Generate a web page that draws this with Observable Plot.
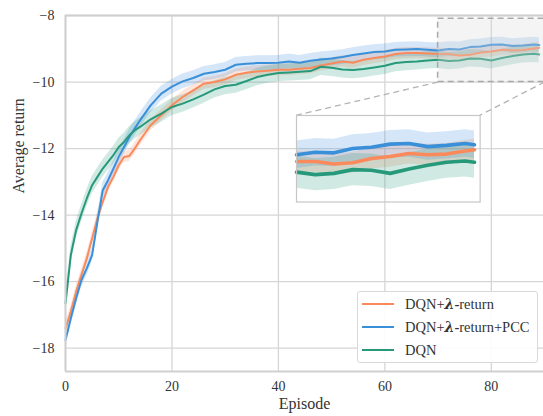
<!DOCTYPE html>
<html>
<head>
<meta charset="utf-8">
<script src="https://cdn.jsdelivr.net/npm/d3@7"></script>
<script src="https://cdn.jsdelivr.net/npm/@observablehq/plot@0.6"></script>
<style>
  html, body { margin: 0; padding: 0; background: #fff; }
  #wrap { position: relative; width: 543px; height: 416px; font-family: "Liberation Serif", "Times New Roman", Times, serif; color: #333; }
  #wrap svg text { font-family: "Liberation Serif", "Times New Roman", Times, serif; }
  #legend { position: absolute; box-sizing: border-box; border: 1px solid #d9d9d9; border-radius: 3px; background: rgba(255,255,255,0.9); font-size: 14.5px; }
  .row { position: absolute; left: 0; height: 20px; display: flex; align-items: center; white-space: nowrap; }
  .swatch { display: inline-block; width: 32px; height: 2px; margin-left: 4px; margin-right: 11px; }
  .lam { font-family: "DejaVu Serif", serif; font-weight: bold; font-style: italic; font-size: 14px; }
  .dash { font-weight: bold; }
</style>
</head>
<body>
<div id="wrap"></div>
<script>
// ---- data ----
const episodes = [0,1,2,3,4,5,6,7,8,9,10,11,12,13,14,16,18,20,22,24,26,28,30,32,34,36,38,40,42,44,46,48,50,52,54,56,58,60,62,64,66,68,70,72,74,76,78,80,82,84,86,88,89];
const lambdaReturn = [-17.4,-16.9,-16.3,-15.8,-15.3,-14.7,-14.1,-13.6,-13.15,-12.85,-12.5,-12.25,-12.22,-12.0,-11.75,
  -11.3,-11.0,-10.7,-10.45,-10.25,-10.05,-10.0,-9.92,-9.78,-9.72,-9.68,-9.66,-9.63,-9.63,-9.6,-9.58,-9.5,-9.44,-9.38,-9.42,-9.33,-9.28,-9.23,-9.16,-9.13,-9.13,-9.14,-9.16,-9.16,-9.2,-9.18,-9.11,-9.08,-9.03,-9.05,-9.04,-8.99,-8.97];
const pccReturn = [-17.75,-17.1,-16.5,-15.95,-15.6,-15.2,-14.2,-13.25,-12.95,-12.6,-12.25,-11.95,-11.65,-11.4,-11.15,
  -10.7,-10.35,-10.14,-9.98,-9.88,-9.75,-9.7,-9.63,-9.48,-9.45,-9.43,-9.43,-9.42,-9.38,-9.42,-9.36,-9.32,-9.29,-9.25,-9.19,-9.14,-9.1,-9.08,-9.03,-9.02,-9.01,-9.03,-9.05,-9.01,-9.02,-8.95,-8.93,-8.88,-8.87,-8.92,-8.9,-8.87,-8.89];
const dqnReturn = [-16.65,-15.2,-14.45,-13.95,-13.5,-13.1,-12.85,-12.6,-12.4,-12.2,-11.95,-11.8,-11.6,-11.45,-11.35,
  -11.12,-10.95,-10.75,-10.65,-10.52,-10.38,-10.22,-10.12,-10.08,-9.97,-9.85,-9.78,-9.73,-9.71,-9.69,-9.67,-9.54,-9.57,-9.62,-9.64,-9.61,-9.56,-9.51,-9.43,-9.4,-9.38,-9.35,-9.33,-9.37,-9.35,-9.29,-9.3,-9.35,-9.28,-9.22,-9.17,-9.15,-9.17];
const seriesNames = ["DQN+λ-return", "DQN+λ-return+PCC", "DQN"];
const seriesValues = [lambdaReturn, pccReturn, dqnReturn];
const bandHalfWidth = [0.17, 0.22, 0.26];
const xTicks = [0, 20, 40, 60, 80];
const yTicks = [-8, -10, -12, -14, -16, -18];

// ---- style / layout ----
const fontStack = "'Liberation Serif', 'Times New Roman', Times, serif";
const seriesColors = ["#fa8a5c", "#3a8fd9", "#27997b"];
const gridColor = "#d6d6d6";
const zoomBox = {x1: 70, x2: 90, y1: -10, y2: -8.1};
const insetBox = {x1: 43.33, x2: 77.83, y1: -13.6, y2: -11.0};
const insetDomainY = [-9.81, -8.42];
const insetDomainX = [70, 89.6];

const rows = [];
seriesNames.forEach((name, s) => {
  episodes.forEach((e, i) => {
    const v = seriesValues[s][i];
    rows.push({series: name, episode: e, value: v, lo: v - bandHalfWidth[s], hi: v + bandHalfWidth[s]});
  });
});

const color = {domain: seriesNames, range: seriesColors};

const main = Plot.plot({
  width: 543, height: 416,
  marginLeft: 65, marginRight: 0, marginTop: 15, marginBottom: 45,
  style: {fontFamily: fontStack, fontSize: "14px", color: "#333", background: "transparent", overflow: "visible"},
  x: {domain: [0, 89.8], ticks: xTicks, tickSize: 0, tickPadding: 10, label: null},
  y: {domain: [-18.7, -8], ticks: yTicks, tickSize: 0, tickPadding: 11, label: null},
  color,
  marks: [
    Plot.ruleX(xTicks, {stroke: gridColor, strokeWidth: 1.3}),
    Plot.ruleY(yTicks, {stroke: gridColor, strokeWidth: 1.3}),
    Plot.areaY(rows, {x: "episode", y1: "lo", y2: "hi", z: "series", fill: "series", fillOpacity: 0.22, curve: "linear"}),
    Plot.lineY(rows, {x: "episode", y: "value", z: "series", stroke: "series", strokeWidth: 2}),
    Plot.rect([zoomBox], {x1: "x1", x2: "x2", y1: "y1", y2: "y2", fill: "#dcdcdc", fillOpacity: 0.3, stroke: "#a9a9a9", strokeWidth: 1.5, strokeDasharray: "6,4"}),
    Plot.link([
      {x1: zoomBox.x1, y1: zoomBox.y1, x2: insetBox.x1, y2: insetBox.y2},
      {x1: zoomBox.x2, y1: zoomBox.y1, x2: insetBox.x2, y2: insetBox.y2}
    ], {x1: "x1", y1: "y1", x2: "x2", y2: "y2", stroke: "#b3b3b3", strokeWidth: 1.3, strokeDasharray: "6,4"}),
    Plot.ruleX([0], {stroke: "#cfcfcf", strokeWidth: 2}),
    Plot.ruleY([-18.7, -8], {stroke: "#cfcfcf", strokeWidth: 2.2}),
    Plot.text(["Episode"], {frameAnchor: "bottom", dy: 37, fontSize: 16, fill: "#333"}),
    Plot.text(["Average return"], {frameAnchor: "left", rotate: -90, dx: -47, fontSize: 16, fill: "#333"})
  ]
});
main.setAttribute("font-family", fontStack);

const wrap = document.getElementById("wrap");
wrap.appendChild(main);

// inset
const sx = main.scale("x"), sy = main.scale("y");
const ix1 = sx.apply(insetBox.x1), ix2 = sx.apply(insetBox.x2);
const iy1 = sy.apply(insetBox.y2), iy2 = sy.apply(insetBox.y1);
const insetRows = rows.filter(d => d.episode >= 70);
const inset = Plot.plot({
  width: ix2 - ix1, height: iy2 - iy1,
  margin: 0,
  style: {background: "transparent", overflow: "visible"},
  x: {domain: insetDomainX, axis: null},
  y: {domain: insetDomainY, axis: null},
  color,
  marks: [
    Plot.areaY(insetRows, {x: "episode", y1: "lo", y2: "hi", z: "series", fill: "series", fillOpacity: 0.22}),
    Plot.lineY(insetRows, {x: "episode", y: "value", z: "series", stroke: "series", strokeWidth: 3.6}),
    Plot.frame({stroke: "#c6c6c6", strokeWidth: 1.2})
  ]
});
inset.style.position = "absolute";
inset.style.left = ix1 + "px";
inset.style.top = iy1 + "px";
inset.style.overflow = "visible";
wrap.appendChild(inset);

// legend
const legend = document.createElement("div");
legend.id = "legend";
legend.style.left = "357px";
legend.style.top = "291px";
legend.style.width = "181px";
legend.style.height = "72px";
const labelsHtml = [
  "DQN+<span class='lam'>λ</span><span class='dash'>-</span>return",
  "DQN+<span class='lam'>λ</span><span class='dash'>-</span>return+PCC",
  "DQN"
];
seriesNames.forEach((name, i) => {
  const row = document.createElement("div");
  row.className = "row";
  row.style.top = (2 + i * 23) + "px";
  row.innerHTML = `<span class="swatch" style="background:${seriesColors[i]}"></span><span>${labelsHtml[i]}</span>`;
  legend.appendChild(row);
});
wrap.appendChild(legend);
</script>
</body>
</html>
